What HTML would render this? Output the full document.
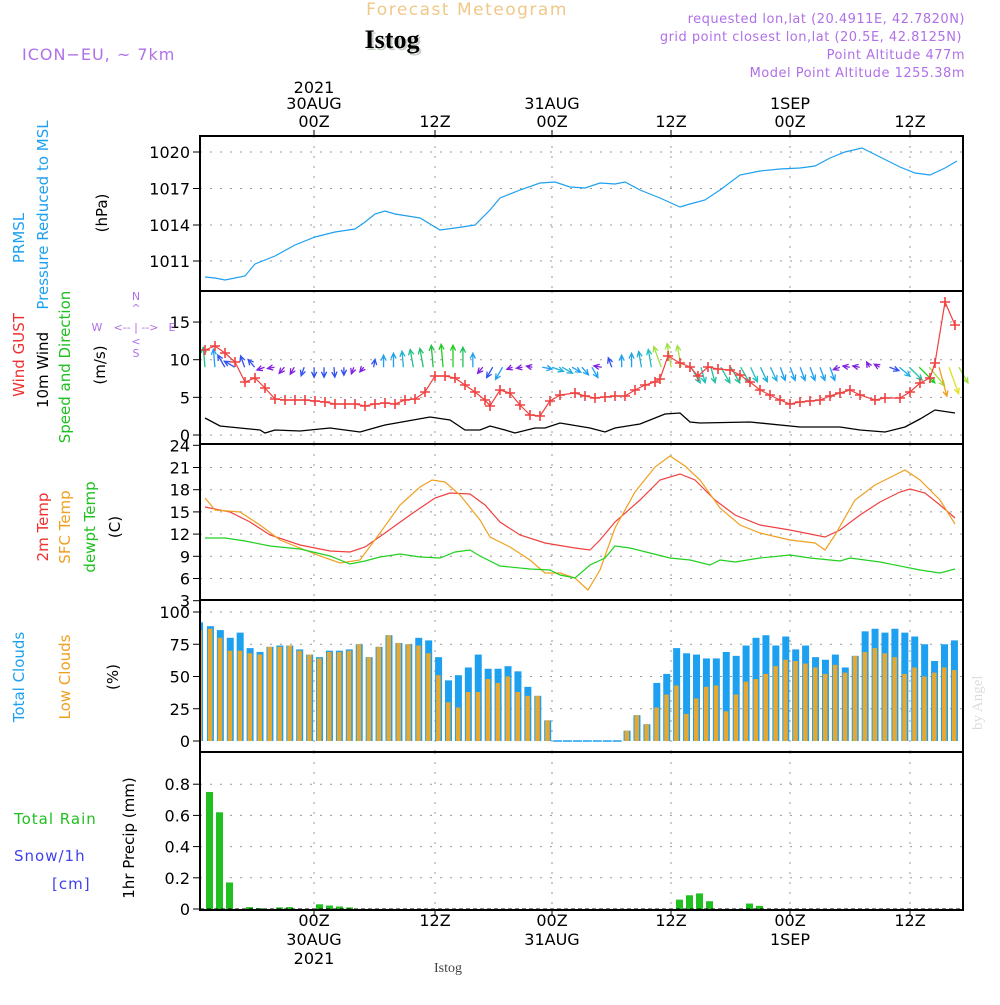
<!DOCTYPE html>
<html><head><meta charset="utf-8"><style>
body{margin:0;background:#fff;width:1000px;height:1000px;overflow:hidden}
svg{font-family:"DejaVu Sans","Liberation Sans",sans-serif}
</style></head><body>
<svg id="s" width="1000" height="1000" xmlns="http://www.w3.org/2000/svg">
<text x="467" y="15" font-size="17" fill="#f0c888" text-anchor="middle" letter-spacing="1.5">Forecast Meteogram</text>
<text x="394" y="50" font-size="26" font-weight="bold" fill="#c8d0c8" text-anchor="middle" font-family="Liberation Serif,serif">Istog</text>
<text x="392" y="48" font-size="26" font-weight="bold" fill="#000" text-anchor="middle" font-family="Liberation Serif,serif">Istog</text>
<text x="22" y="60" font-size="16" fill="#b070e8" letter-spacing="1">ICON−EU, ~ 7km</text>
<g font-size="13" fill="#b070e8" text-anchor="end" letter-spacing="0.5">
<text x="965" y="23">requested lon,lat (20.4911E, 42.7820N)</text>
<text x="962" y="41">grid point closest lon,lat (20.5E, 42.8125N)</text>
<text x="965" y="59">Point Altitude 477m</text>
<text x="965" y="77">Model Point Altitude 1255.38m</text>
</g>
<g font-size="16" fill="#000" text-anchor="middle">
<text x="314" y="93">2021</text><text x="314" y="109">30AUG</text><text x="314" y="127">00Z</text>
<text x="435" y="127">12Z</text>
<text x="552" y="109">31AUG</text><text x="552" y="127">00Z</text>
<text x="671" y="127">12Z</text>
<text x="790" y="109">1SEP</text><text x="790" y="127">00Z</text>
<text x="910" y="127">12Z</text>
<text x="314" y="926">00Z</text><text x="314" y="945">30AUG</text><text x="314" y="964">2021</text>
<text x="435" y="926">12Z</text>
<text x="552" y="926">00Z</text><text x="552" y="945">31AUG</text>
<text x="671" y="926">12Z</text>
<text x="790" y="926">00Z</text><text x="790" y="945">1SEP</text>
<text x="910" y="926">12Z</text>
</g>
<text x="448" y="972" font-size="14" fill="#444" text-anchor="middle" font-family="Liberation Serif,serif">Istog</text>
<text transform="translate(982,730) rotate(-90)" font-size="15" fill="#ddd" font-family="Liberation Serif,serif">by Angel</text>
<g id="g"></g>
<g font-size="15">
<text transform="translate(24,238) rotate(-90)" fill="#1ea0f0" text-anchor="middle">PRMSL</text>
<text transform="translate(48,215) rotate(-90)" fill="#1ea0f0" text-anchor="middle">Pressure Reduced to MSL</text>
<text transform="translate(107,213) rotate(-90)" fill="#000" text-anchor="middle">(hPa)</text>
<text transform="translate(24,355) rotate(-90)" fill="#f03030" text-anchor="middle">Wind GUST</text>
<text transform="translate(48,370) rotate(-90)" fill="#000" text-anchor="middle">10m Wind</text>
<text transform="translate(70,367) rotate(-90)" fill="#20c020" text-anchor="middle">Speed and Direction</text>
<text transform="translate(105,365) rotate(-90)" fill="#000" text-anchor="middle">(m/s)</text>
<text transform="translate(48,527) rotate(-90)" fill="#f03030" text-anchor="middle">2m Temp</text>
<text transform="translate(70,527) rotate(-90)" fill="#f0a020" text-anchor="middle">SFC Temp</text>
<text transform="translate(95,527) rotate(-90)" fill="#20c020" text-anchor="middle">dewpt Temp</text>
<text transform="translate(120,527) rotate(-90)" fill="#000" text-anchor="middle">(C)</text>
<text transform="translate(24,677) rotate(-90)" fill="#1ea0f0" text-anchor="middle">Total Clouds</text>
<text transform="translate(70,677) rotate(-90)" fill="#f0a020" text-anchor="middle">Low Clouds</text>
<text transform="translate(118,677) rotate(-90)" fill="#000" text-anchor="middle">(%)</text>
<text transform="translate(134,838) rotate(-90)" fill="#000" text-anchor="middle">1hr Precip (mm)</text>
<text x="14" y="824" fill="#20c020" letter-spacing="1">Total  Rain</text>
<text x="14" y="861" fill="#4040f0" letter-spacing="1">Snow/1h</text>
<text x="52" y="889" fill="#4040f0" letter-spacing="1">[cm]</text>
</g>
<g font-size="11" fill="#b070e8" text-anchor="middle">
<text x="136" y="300">N</text><text x="136" y="312">^</text>
<text x="97" y="331">W</text><text x="136" y="331">&lt;-- | --&gt;</text><text x="172" y="331">E</text>
<text x="136" y="345">&lt;</text><text x="136" y="357">S</text>
</g>
</svg>
<script>
const g=document.getElementById('g');let h='';
const L=200,R=963;
function X(hr){return 205+9.92*hr;}
function poly(pts,c,w){return `<polyline points="${pts.map(p=>p.join(',')).join(' ')}" fill="none" stroke="${c}" stroke-width="${w||1.2}"/>`;}
const panels=[[136,291],[291,444],[444,600],[600,752],[752,910]];
const vx=[314,435,552,671,790,910];
function grid(y){return `<line x1="${L}" x2="${R}" y1="${y}" y2="${y}" stroke="#999" stroke-dasharray="2,8"/>`;}
function ylab(y,t){return `<line x1="${L-7}" x2="${L}" y1="${y}" y2="${y}" stroke="#000"/><text x="${L-10}" y="${y+6}" font-size="16" text-anchor="end">${t}</text>`;}
panels.forEach(p=>{vx.forEach(x=>{h+=`<line x1="${x}" x2="${x}" y1="${p[0]}" y2="${p[1]}" stroke="#999" stroke-dasharray="2,8"/>`;});});
vx.forEach(x=>{h+=`<line x1="${x}" x2="${x}" y1="130" y2="136" stroke="#000"/><line x1="${x}" x2="${x}" y1="910" y2="916" stroke="#000"/>`;});
[[1020,152],[1017,188.5],[1014,225],[1011,261]].forEach(a=>{h+=grid(a[1])+ylab(a[1],a[0]);});
h+=poly([[205,277],[215,278],[225,280],[245,276],[255,264],[275,256],[295,245],[315,237],[335,232],[355,229],[365,222],[375,214],[385,211],[395,214],[420,218],[440,230],[455,228],[475,225],[490,210],[500,198],[520,190],[540,183],[555,182],[570,187],[585,188],[600,183],[615,184],[625,182],[640,190],[660,198],[680,207],[690,204],[705,200],[720,190],[740,175],[760,171],[780,169],[800,168],[815,166],[830,158],[845,152],[862,148],[880,157],[900,167],[915,173],[930,175],[945,168],[957,161]],'#1ea0f0');
const wy=v=>435-7.53*v;
[[15],[10],[5],[0]].forEach(a=>{const y=wy(a[0]);h+=grid(y)+ylab(y,a[0]);});
const sp=[[0,-5,20,'#20c080'],[1,-5,18,'#1ea0f0'],[2,-30,14,'#3050f0'],[3,-60,12,'#3050f0'],[4,-20,12,'#3050f0'],[5,-40,10,'#3050f0'],[6,-110,8,'#8020e0'],[7,-100,7,'#8020e0'],[8,-140,8,'#8020e0'],[9,-150,8,'#8020e0'],[10,-160,9,'#3050f0'],[11,180,10,'#3050f0'],[12,180,10,'#3050f0'],[13,175,10,'#3050f0'],[14,180,8,'#3050f0'],[15,-160,7,'#8020e0'],[16,-140,6,'#8020e0'],[17,10,8,'#3050f0'],[18,0,12,'#1ea0f0'],[19,0,14,'#1ea0f0'],[20,-5,16,'#20b0d0'],[21,-10,18,'#20c090'],[22,-10,19,'#20c070'],[23,-5,22,'#20c040'],[24,-5,23,'#20d020'],[25,0,22,'#20d020'],[26,0,20,'#20c060'],[27,0,14,'#1ea0f0'],[28,-140,8,'#8020e0'],[29,-150,12,'#3050f0'],[30,-150,14,'#1ea0f0'],[31,-110,6,'#8020e0'],[32,-100,6,'#8020e0'],[33,-80,6,'#8020e0'],[34,100,10,'#20a0f0'],[35,110,12,'#20b0e0'],[36,120,12,'#20b0e0'],[37,120,10,'#1ea0f0'],[38,140,10,'#1ea0f0'],[39,150,12,'#1ea0f0'],[40,-80,8,'#8020e0'],[41,-20,10,'#3050f0'],[42,0,12,'#1ea0f0'],[43,0,14,'#1ea0f0'],[44,-10,16,'#20b0d0'],[45,-10,18,'#20c0c0'],[46,-20,22,'#a0e040'],[47,-10,24,'#a0e040'],[48,-10,22,'#a0e040'],[49,150,18,'#20c0b0'],[50,165,16,'#20c0c0'],[51,165,16,'#20c0a0'],[52,150,18,'#20c0a0'],[53,150,18,'#20c090'],[54,150,18,'#20c0a0'],[55,155,16,'#20c0c0'],[56,155,16,'#20b0d0'],[57,155,15,'#20b0e0'],[58,160,14,'#1ea0f0'],[59,160,14,'#1ea0f0'],[60,160,14,'#1ea0f0'],[61,160,14,'#1ea0f0'],[62,160,14,'#1ea0f0'],[63,160,14,'#1ea0f0'],[64,-110,7,'#8020e0'],[65,-80,7,'#8020e0'],[66,-80,7,'#8020e0'],[67,-30,6,'#8020e0'],[68,-60,6,'#8020e0'],[69,110,10,'#3050f0'],[70,130,14,'#20b0e0'],[71,135,18,'#20c0a0'],[72,135,22,'#20d020'],[73,140,24,'#a0e040'],[74,165,30,'#f0a020'],[75,160,28,'#e0e020'],[76,150,18,'#a0e040']];
sp.forEach(s=>{const x0=X(s[0]),y0=wy(9);const r=s[1]*Math.PI/180;const x1=x0+s[2]*Math.sin(r),y1=y0-s[2]*Math.cos(r);
const a1=r+Math.PI-0.45,a2=r+Math.PI+0.45;
h+=`<path d="M${x0},${y0}L${x1},${y1}M${x1+6*Math.sin(a1)},${y1-6*Math.cos(a1)}L${x1},${y1}L${x1+6*Math.sin(a2)},${y1-6*Math.cos(a2)}" stroke="${s[3]}" fill="none" stroke-width="1.3"/>`;});
const gust=[[205,350],[215,346],[225,353],[235,362],[245,382],[255,378],[265,388],[275,399],[285,400],[295,400],[305,400],[315,401],[325,402],[335,404],[345,404],[355,404],[365,406],[375,404],[385,403],[395,404],[405,400],[415,399],[425,392],[435,376],[445,376],[455,378],[465,385],[475,392],[485,400],[490,406],[500,390],[510,393],[520,405],[530,415],[540,416],[550,401],[560,395],[575,393],[585,396],[595,398],[605,397],[615,396],[625,396],[635,390],[645,385],[655,382],[660,379],[668,356],[680,363],[690,367],[698,376],[708,367],[718,369],[730,370],[740,375],[750,382],[760,390],[770,395],[780,400],[790,404],[800,402],[810,401],[820,400],[830,396],[840,393],[850,390],[860,395],[875,400],[885,398],[900,398],[910,392],[920,383],[930,378],[935,363],[945,302],[955,325]];
h+=poly(gust,'#f04040',1.2);
gust.forEach(p=>{h+=`<path d="M${p[0]-5},${p[1]}h10M${p[0]},${p[1]-5}v10" stroke="#f04040" stroke-width="1.6"/>`;});
h+=poly([[205,418],[220,426],[260,430],[265,433],[275,430],[300,431],[330,428],[360,432],[385,425],[430,417],[450,420],[465,430],[480,430],[490,426],[505,430],[515,433],[535,428],[545,428],[560,423],[590,428],[605,432],[615,428],[640,424],[665,414],[680,413],[690,422],[700,423],[750,422],[800,427],[840,427],[860,430],[885,432],[905,427],[920,419],[935,410],[955,413]],'#000',1.3);
const ty=v=>578.5-7.4*(v-6);
[24,21,18,15,12,9,6,3].forEach(v=>{const y=ty(v);if(v<24&&v>3)h+=grid(y);h+=ylab(y,v);});
h+=poly([[205,507],[230,512],[250,522],[270,535],[300,545],[330,551],[350,552],[365,547],[385,533],[410,515],[435,498],[450,493],[470,494],[485,505],[500,522],[520,535],[545,543],[575,548],[590,550],[600,540],[615,522],[640,500],[660,480],[680,474],[695,480],[715,500],[735,515],[760,525],[790,530],[810,534],[825,537],[840,530],[860,515],[880,502],[900,492],[910,489],[925,493],[940,505],[955,518]],'#f04040');
h+=poly([[205,498],[215,510],[240,512],[260,525],[280,540],[300,548],[320,556],[340,563],[360,560],[380,533],[400,505],[420,487],[432,480],[445,482],[460,495],[480,520],[490,537],[510,547],[530,560],[545,573],[560,573],[575,578],[588,590],[600,570],[615,528],[635,492],[655,467],[670,456],[685,466],[700,480],[720,508],[740,525],[760,533],[790,540],[815,543],[825,550],[835,535],[855,500],[875,485],[895,475],[905,470],[920,480],[940,500],[955,524]],'#f0a020');
h+=poly([[205,538],[225,538],[245,541],[270,546],[300,549],[330,556],[350,564],[365,561],[380,557],[400,554],[420,557],[440,558],[455,552],[470,550],[480,556],[500,566],[530,569],[550,570],[560,575],[575,578],[590,565],[605,558],[615,546],[630,548],[650,553],[670,558],[690,560],[710,565],[720,560],[735,562],[760,558],[790,555],[810,558],[840,561],[850,558],[880,562],[920,570],[940,573],[955,569]],'#20d020');
const cy=v=>741-1.29*v;
[100,75,50,25,0].forEach(v=>{const y=cy(v);if(v>0)h+=grid(y);h+=ylab(y,v);});
const cl=[[92,86],[89,87],[86,80],[80,70],[84,70],[72,68],[69,67],[73,73],[74,73],[74,74],[71,70],[67,67],[65,64],[70,69],[70,69],[71,70],[75,75],[65,65],[73,73],[82,82],[76,76],[75,75],[80,74],[78,68],[65,51],[47,30],[51,26],[57,38],[67,38],[56,48],[56,45],[58,50],[54,38],[42,35],[35,35],[16,16],[0,0],[0,0],[0,0],[0,0],[0,0],[0,0],[0,0],[8,8],[20,20],[13,13],[45,26],[52,36],[72,43],[68,21],[67,33],[64,42],[64,43],[69,23],[66,36],[74,46],[80,48],[82,52],[74,58],[81,63],[71,62],[74,60],[65,57],[63,52],[67,59],[57,53],[66,66],[85,69],[87,72],[84,68],[87,65],[84,52],[81,57],[75,50],[62,53],[75,57],[78,55]];
cl.forEach((c,i)=>{const x=200+9.92*i;const w=(i==0)?3:7;const x0=(i==0)?200:x-3;
if(c[0]>0)h+=`<rect x="${x0}" y="${cy(c[0])}" width="${w}" height="${1.29*c[0]}" fill="#1ea0f0"/>`;
if(c[1]>0)h+=`<rect x="${x0+(i==0?0:1)}" y="${cy(c[1])}" width="${i==0?2:4.5}" height="${1.29*c[1]}" fill="#e8a830"/>`;
if(c[0]==0)h+=`<line x1="${x-4}" x2="${x+5}" y1="741" y2="741" stroke="#1ea0f0" stroke-width="1.5"/>`;});
const py=v=>909-156*v;
[[0.8,'0.8'],[0.6,'0.6'],[0.4,'0.4'],[0.2,'0.2'],[0,'0']].forEach(a=>{const y=py(a[0]);if(a[0]>0)h+=grid(y);h+=ylab(y,a[1]);});
[[209,0.75],[219,0.62],[229,0.17],[249,0.012],[259,0.006],[279,0.01],[289,0.012],[319,0.03],[329,0.022],[339,0.016],[349,0.01],[679,0.06],[689,0.088],[699,0.1],[709,0.05],[749,0.035],[759,0.02]].forEach(b=>{h+=`<rect x="${b[0]-3}" y="${py(b[1])}" width="7" height="${156*b[1]}" fill="#20c020"/>`;});
h+=`<line x1="${L}" x2="${R}" y1="909" y2="909" stroke="#000" stroke-dasharray="4,3"/>`;
panels.forEach(p=>{h+=`<rect x="${L}" y="${p[0]}" width="${R-L}" height="${p[1]-p[0]}" fill="none" stroke="#000" stroke-width="2"/>`;});
g.innerHTML=h;
</script>
</body></html>
